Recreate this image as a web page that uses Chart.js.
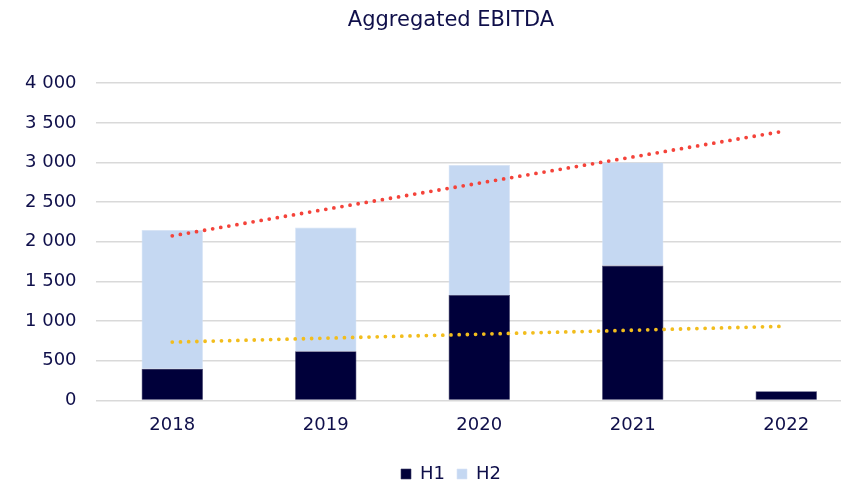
<!DOCTYPE html>
<html>
<head>
<meta charset="utf-8">
<script src="https://cdn.jsdelivr.net/npm/chart.js@4/dist/chart.umd.min.js"></script>
<style>
  html, body { margin: 0; padding: 0; background: #ffffff; overflow: hidden; }
  #wrap { width: 841px; height: 482px; position: relative; overflow: hidden; }
</style>
</head>
<body>
<div id="wrap"><canvas id="c" width="902" height="495"></canvas></div>
<script>
const categories = ['2018', '2019', '2020', '2021', '2022'];
const h1Values = [400, 620, 1330, 1700, 115];
const h2Values = [1750, 1560, 1640, 1300, 0];
const trendTotal = [2075, 2410, 2740, 3070, 3400];
const trendH1 = [735, 785, 835, 885, 935];
const yTicks = [0, 500, 1000, 1500, 2000, 2500, 3000, 3500, 4000];

const textColor = '#0f0f4a';
const fontFamily = 'Verdana, "DejaVu Sans", sans-serif';
const fmt = v => String(v).replace(/\B(?=(\d{3})+(?!\d))/g, ' ');

// centre title and legend over the full original chart width
const centreBoxes = {
  id: 'centreBoxes',
  afterLayout(chart) {
    const left = 39;
    [chart.titleBlock, chart.legend].forEach(b => {
      if (!b) return;
      b.left = left;
      b.width = b.right - left;
    });
  }
};

new Chart(document.getElementById('c'), {
  data: {
    labels: categories,
    datasets: [
      { type: 'line', label: 'trendTotal', data: trendTotal, stack: 't1', order: 0,
        borderColor: '#f4433a', borderWidth: 3.8, borderDash: [0, 8.2], borderCapStyle: 'round',
        pointRadius: 0, fill: false, tension: 0 },
      { type: 'line', label: 'trendH1', data: trendH1, stack: 't2', order: 0,
        borderColor: '#f2bd1d', borderWidth: 3.8, borderDash: [0, 8.2], borderCapStyle: 'round',
        pointRadius: 0, fill: false, tension: 0 },
      { type: 'bar', label: 'H1', data: h1Values, stack: 'bars', order: 1,
        backgroundColor: '#00003a', borderColor: '#3a3a66', borderWidth: 0.6,
        categoryPercentage: 1, barPercentage: 0.4 },
      { type: 'bar', label: 'H2', data: h2Values, stack: 'bars', order: 1,
        backgroundColor: '#c5d8f2', borderColor: '#d8e4f6', borderWidth: 0.6,
        categoryPercentage: 1, barPercentage: 0.4 }
    ]
  },
  plugins: [centreBoxes],
  options: {
    responsive: false,
    animation: false,
    devicePixelRatio: 1,
    layout: { padding: { left: 6, right: 39, top: 0, bottom: 2 } },
    plugins: {
      title: { display: true, text: 'Aggregated EBITDA', color: textColor,
        font: { family: fontFamily, size: 21, weight: 'normal' }, padding: { top: 8, bottom: 50 } },
      legend: { position: 'bottom',
        labels: { color: textColor, font: { family: fontFamily, size: 18 }, boxWidth: 10, boxHeight: 10,
          padding: 12,
          filter: item => item.text === 'H1' || item.text === 'H2' } },
      tooltip: { enabled: false }
    },
    scales: {
      x: { stacked: true, offset: true,
        afterFit: s => { s.height += 3; },
        grid: { display: false, drawTicks: false },
        border: { display: false },
        ticks: { color: textColor, font: { family: fontFamily, size: 18 }, padding: 14 } },
      y: { stacked: true, min: 0, max: 4000,
        afterBuildTicks: s => { s.ticks = yTicks.map(v => ({ value: v })); },
        grid: { color: '#d9d9d9', lineWidth: 1.5, drawTicks: false },
        border: { display: false },
        ticks: { color: textColor, font: { family: fontFamily, size: 18 }, padding: 19, callback: v => fmt(v) } }
    }
  }
});
</script>
</body>
</html>
